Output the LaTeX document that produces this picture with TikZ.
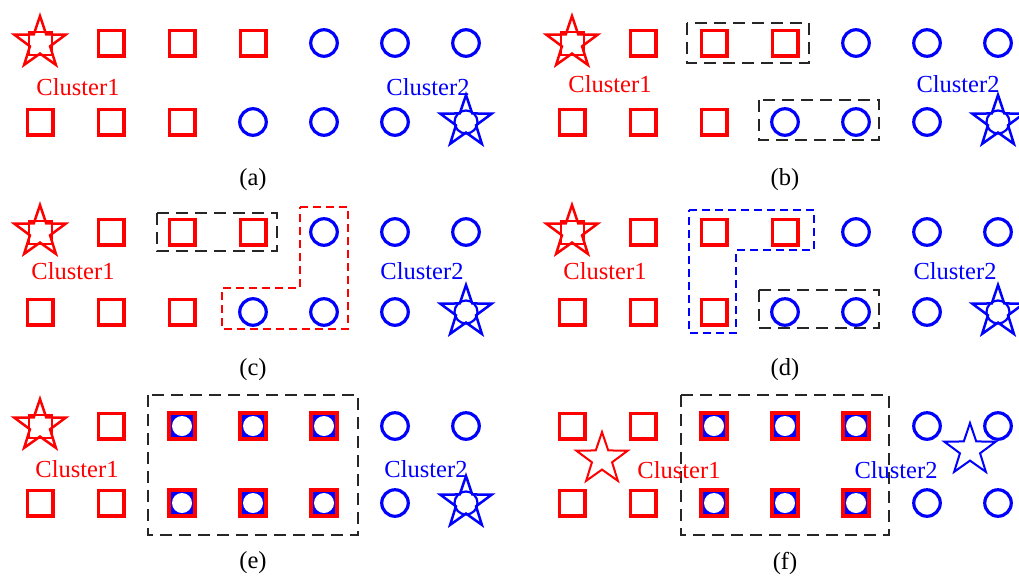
\documentclass[tikz,border=0pt]{standalone}
\usepackage{fontspec}
\setmainfont{Liberation Serif}
\usetikzlibrary{shapes.geometric}
\newcommand\mkrow[4]{%
  \foreach \t [count=\i from 0] in {#4} {
    \pgfmathsetmacro\xx{40+71*\i+#2}
    \node[\t] (#1\i) at (\xx,#3) {};
  }}
\begin{document}
\begin{tikzpicture}[x=1pt,y=-1pt,
  sqm/.style={rectangle, draw=red, line width=3.5pt, minimum size=25.5pt, inner sep=0pt, outer sep=0pt},
  cim/.style={circle, draw=blue, line width=3.2pt, minimum size=26.5pt, inner sep=0pt},
  mixm/.style={rectangle, draw=red, fill=blue, line width=4pt, minimum size=26pt, inner sep=0pt,
    path picture={\fill[white] (path picture bounding box.center) circle (10pt);}},
  starbase/.style={star, star points=5, star point ratio=2.55, minimum size=54pt, inner sep=0pt},
  rstm/.style={starbase, draw=red, line width=2.5pt,
    label={[rectangle, draw=red, line width=2pt, minimum size=23pt, inner sep=0pt]center:{}}},
  bstm/.style={starbase, draw=blue, line width=2.5pt,
    label={[circle, draw=blue, line width=2.2pt, minimum size=23pt, inner sep=0pt]center:{}}},
  fstar/.style={starbase, draw=#1, line width=2pt},
  lab/.style={font=\fontsize{24.5}{24.5}\selectfont, inner sep=0pt},
  bbox/.style={draw=black!85, line width=2.2pt, dash pattern=on 12pt off 7pt},
  cbox/.style={draw=#1, line width=1.7pt, dash pattern=on 8pt off 5pt}
]
\useasboundingbox (0,0) rectangle (1019,576);
% (a)
\mkrow{at}{0}{43}{rstm,sqm,sqm,sqm,cim,cim,cim}
\mkrow{ab}{0}{122}{sqm,sqm,sqm,cim,cim,cim,bstm}
\node[lab, red] (ac1) at (78,87) {Cluster1};
\node[lab, blue] (ac2) at (428,87) {Cluster2};
\node[lab] (acap) at (253,180) {(a)};
% (b)
\mkrow{bt}{532}{43}{rstm,sqm,sqm,sqm,cim,cim,cim}
\mkrow{bb}{532}{122}{sqm,sqm,sqm,cim,cim,cim,bstm}
\draw[bbox] (687,23) rectangle (809,63);
\draw[bbox] (759,100) rectangle (879,140);
\node[lab, red] (bc1) at (610,84) {Cluster1};
\node[lab, blue] (bc2) at (958,84) {Cluster2};
\node[lab] (bcap) at (785,180) {(b)};
% (c)
\mkrow{ct}{0}{232}{rstm,sqm,sqm,sqm,cim,cim,cim}
\mkrow{cb}{0}{312}{sqm,sqm,sqm,cim,cim,cim,bstm}
\draw[bbox] (157,213) rectangle (277,251);
\draw[cbox=red] (300,207) -- (348,207) -- (348,329) -- (222,329) -- (222,288) -- (300,288) -- cycle;
\node[lab, red] (cc1) at (73,271) {Cluster1};
\node[lab, blue] (cc2) at (422,271) {Cluster2};
\node[lab] (ccap) at (253,370) {(c)};
% (d)
\mkrow{dt}{532}{232}{rstm,sqm,sqm,sqm,cim,cim,cim}
\mkrow{db}{532}{312}{sqm,sqm,sqm,cim,cim,cim,bstm}
\draw[cbox=blue] (689,210) -- (814,210) -- (814,250) -- (736,250) -- (736,333) -- (689,333) -- cycle;
\draw[bbox] (759,290) rectangle (879,328);
\node[lab, red] (dc1) at (605,271) {Cluster1};
\node[lab, blue] (dc2) at (955,271) {Cluster2};
\node[lab] (dcap) at (785,370) {(d)};
% (e)
\mkrow{et}{0}{426}{rstm,sqm,mixm,mixm,mixm,cim,cim}
\mkrow{eb}{0}{503}{sqm,sqm,mixm,mixm,mixm,cim,bstm}
\draw[bbox] (148,395) rectangle (358,535);
\node[lab, red] (ec1) at (77,469) {Cluster1};
\node[lab, blue] (ec2) at (426,469) {Cluster2};
\node[lab] (ecap) at (253,563) {(e)};
% (f)
\mkrow{ft}{532}{426}{sqm,sqm,mixm,mixm,mixm,cim,cim}
\mkrow{fb}{532}{503}{sqm,sqm,mixm,mixm,mixm,cim,cim}
\draw[bbox] (681,395) rectangle (889,535);
\node[fstar=red] (fs1) at (602,459) {};
\node[fstar=blue] (fs2) at (970,450) {};
\node[lab, red] (fc1) at (679,470) {Cluster1};
\node[lab, blue] (fc2) at (896,470) {Cluster2};
\node[lab] (fcap) at (785,563) {(f)};
\end{tikzpicture}
\end{document}
